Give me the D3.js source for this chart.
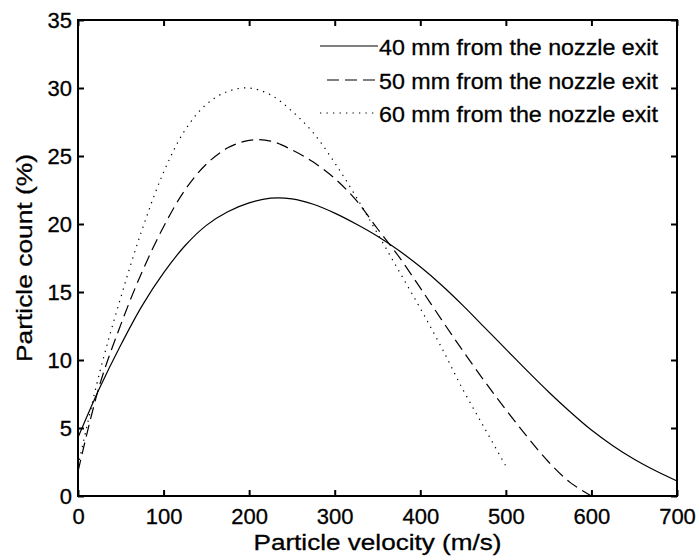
<!DOCTYPE html>
<html>
<head>
<meta charset="utf-8">
<script src="https://cdn.jsdelivr.net/npm/d3@7"></script>
<style>
  body { margin: 0; background: #fff; }
  svg { display: block; }
  text { font-family: 'Liberation Sans', Arial, sans-serif; fill: #000; stroke: #000; stroke-width: 0.3px; }
</style>
</head>
<body>
<script>
/* global d3 */

// velocity grid (m/s), one per series
var v40 = [0, 25, 50, 75, 100, 125, 150, 175, 200, 225, 250, 275, 300, 325, 350,
  375, 400, 425, 450, 475, 500, 525, 550, 575, 600, 625, 650, 675, 700]
var v50 = [0, 25, 50, 75, 100, 125, 150, 175, 200, 225, 250, 275, 300, 325, 350,
  375, 400, 425, 450, 475, 500, 525, 550, 575, 600]
var v60 = [0, 25, 50, 75, 100, 125, 150, 175, 200, 225, 250, 275, 300, 325, 350,
  375, 400, 425, 450, 475, 500]

// particle count (%)
var count40 = [4.3, 7.9, 11.1, 14.0, 16.4, 18.4, 19.9, 20.9, 21.55, 21.9, 21.85, 21.45,
  20.8, 20.0, 19.1, 18.05, 16.85, 15.5, 14.0, 12.4, 10.8, 9.2, 7.65, 6.2, 4.85,
  3.7, 2.7, 1.85, 1.1]
var count50 = [1.8, 8.1, 12.6, 16.5, 19.8, 22.5, 24.4, 25.6, 26.15, 26.1, 25.45, 24.55,
  23.35, 21.75, 19.65, 17.6, 15.3, 12.95, 10.65, 8.45, 6.35, 4.35, 2.5, 1.0, 0.0]
var count60 = [2.2, 9.0, 14.6, 19.6, 23.8, 26.9, 28.8, 29.75, 30.0, 29.5, 28.3, 26.7,
  24.5, 22.0, 19.3, 16.55, 13.8, 10.9, 7.8, 5.0, 2.2]

var seriesNames = ['40 mm from the nozzle exit', '50 mm from the nozzle exit', '60 mm from the nozzle exit']
var xTicks = [0, 100, 200, 300, 400, 500, 600, 700]
var yTicks = [0, 5, 10, 15, 20, 25, 30, 35]

draw()

function draw () {
  var W = 699
  var H = 560
  var pLeft = 78
  var pTop = 20
  var pRight = 677
  var pBottom = 496
  var dashes = [null, '12,6', '1.3,5.2']

  var svg = d3.select('body').append('svg')
    .attr('width', W)
    .attr('height', H)

  var x = d3.scaleLinear().domain([0, 700]).range([pLeft, pRight])
  var y = d3.scaleLinear().domain([0, 35]).range([pBottom, pTop])

  var series = [
    { name: seriesNames[0], xs: v40, ys: count40 },
    { name: seriesNames[1], xs: v50, ys: count50 },
    { name: seriesNames[2], xs: v60, ys: count60 }
  ]

  var line = d3.line()
    .x(function (d) { return x(d[0]) })
    .y(function (d) { return y(d[1]) })
    .curve(d3.curveCatmullRom.alpha(0.5))

  // curves
  series.forEach(function (s, i) {
    var pts = s.xs.map(function (v, j) { return [v, s.ys[j]] })
    svg.append('path')
      .attr('d', line(pts))
      .attr('fill', 'none')
      .attr('stroke', '#000')
      .attr('stroke-width', 1.2)
      .attr('stroke-dasharray', dashes[i])
  })

  // axes, ticks pointing inward
  var axB = svg.append('g')
    .attr('transform', 'translate(0,' + pBottom + ')')
    .call(d3.axisBottom(x).tickValues(xTicks).tickSizeInner(-6).tickSizeOuter(0).tickPadding(12))
  var axL = svg.append('g')
    .attr('transform', 'translate(' + pLeft + ',0)')
    .call(d3.axisLeft(y).tickValues(yTicks).tickSizeInner(-6).tickSizeOuter(0).tickPadding(6))
  var axT = svg.append('g')
    .attr('transform', 'translate(0,' + pTop + ')')
    .call(d3.axisTop(x).tickValues(xTicks).tickSizeInner(-6).tickSizeOuter(0).tickFormat(''))
  var axR = svg.append('g')
    .attr('transform', 'translate(' + pRight + ',0)')
    .call(d3.axisRight(y).tickValues(yTicks).tickSizeInner(-6).tickSizeOuter(0).tickFormat(''))

  ;[axB, axL, axT, axR].forEach(function (ax) {
    ax.select('.domain').remove()
    ax.selectAll('.tick line').attr('stroke', '#000').attr('stroke-width', 2)
    ax.selectAll('.tick text')
      .style('font-family', "'Liberation Sans', Arial, sans-serif")
      .style('font-size', '22px')
      .attr('fill', '#000')
  })

  svg.append('rect')
    .attr('x', pLeft)
    .attr('y', pTop)
    .attr('width', pRight - pLeft)
    .attr('height', pBottom - pTop)
    .attr('fill', 'none')
    .attr('stroke', '#000')
    .attr('stroke-width', 2)

  // axis titles
  svg.append('text')
    .attr('x', (pLeft + pRight) / 2)
    .attr('y', 550)
    .attr('text-anchor', 'middle')
    .attr('textLength', 248)
    .attr('lengthAdjust', 'spacingAndGlyphs')
    .style('font-size', '22px')
    .text('Particle velocity (m/s)')

  svg.append('text')
    .attr('transform', 'translate(32,' + ((pTop + pBottom) / 2) + ') rotate(-90)')
    .attr('text-anchor', 'middle')
    .attr('textLength', 208)
    .attr('lengthAdjust', 'spacingAndGlyphs')
    .style('font-size', '22px')
    .text('Particle count (%)')

  // legend
  var rowY = [46, 80, 113]
  series.forEach(function (s, i) {
    svg.append('line')
      .attr('x1', i === 1 ? 327 : 320)
      .attr('x2', 378)
      .attr('y1', rowY[i])
      .attr('y2', rowY[i])
      .attr('stroke', '#000')
      .attr('stroke-width', 1.2)
      .attr('stroke-dasharray', dashes[i])
    svg.append('text')
      .attr('x', 379)
      .attr('y', rowY[i] + 9)
      .attr('textLength', 279)
      .attr('lengthAdjust', 'spacingAndGlyphs')
      .style('font-size', '22px')
      .text(s.name)
  })
}
</script>
</body>
</html>
